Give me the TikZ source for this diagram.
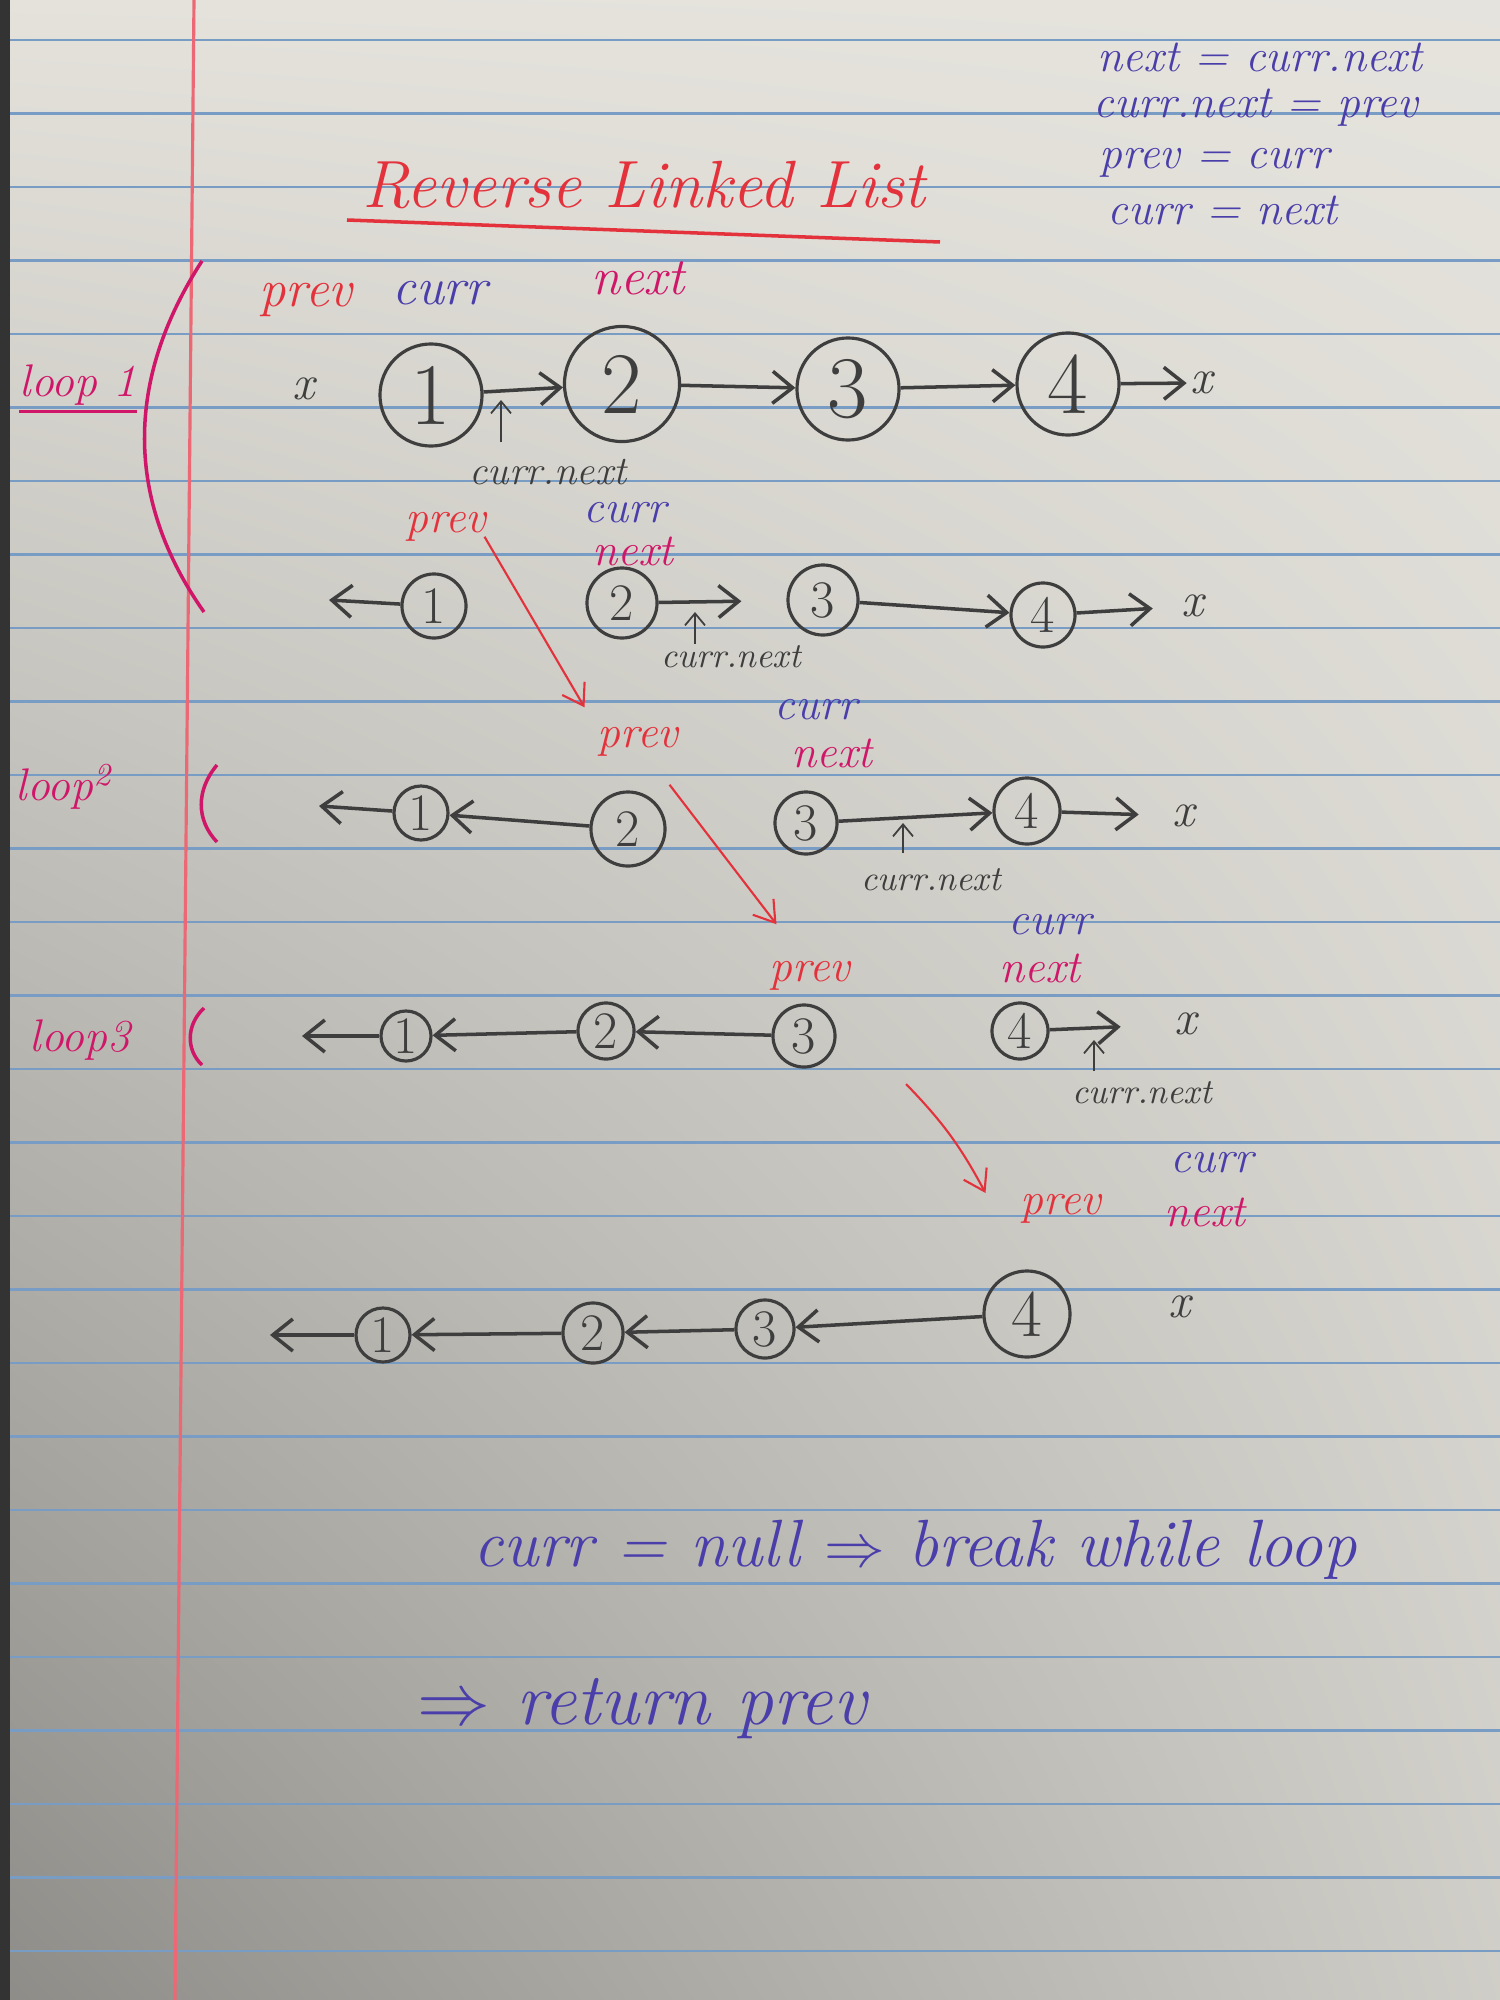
\documentclass[tikz,border=0pt]{standalone}
\usepackage{xcolor}
\usepackage{tikz}
\usetikzlibrary{arrows.meta, positioning, calc, shadings}

\definecolor{paper}{RGB}{228,226,219}
\definecolor{ruling}{RGB}{120,156,196}
\definecolor{marginred}{RGB}{236,104,116}
\definecolor{pencil}{RGB}{62,62,62}
\definecolor{redink}{RGB}{228,50,60}
\definecolor{blueink}{RGB}{74,62,170}
\definecolor{pinkink}{RGB}{208,22,104}

\begin{document}
\begin{tikzpicture}[
		x=0.01cm, y=-0.01cm,
		nd/.style={draw=pencil, circle, line width=0.9pt, inner sep=0pt, text=pencil},
		big/.style={nd, minimum size=1.02cm, font=\fontsize{25}{25}\selectfont},
		sml/.style={nd, minimum size=0.64cm, font=\fontsize{15}{15}\selectfont},
		lnk/.style={draw=pencil, line width=1pt, -{Straight Barb[length=2mm, width=3.2mm]}},
		nul/.style={text=pencil, font=\fontsize{14}{14}\selectfont\itshape, inner sep=1pt},
		tag/.style={font=\fontsize{13}{13}\selectfont\itshape, inner sep=1pt},
		prv/.style={tag, text=redink},
		cur/.style={tag, text=blueink},
		nxt/.style={tag, text=pinkink},
		note/.style={text=pencil, font=\fontsize{10}{10}\selectfont\itshape, inner sep=1pt},
		ptr/.style={draw=pencil, line width=0.5pt, -{Straight Barb[length=1.2mm, width=2mm]}},
		jump/.style={draw=redink, line width=0.6pt, -{Straight Barb[length=2mm, width=2.6mm]}},
		brk/.style={draw=pinkink, line width=1pt},
		loopname/.style={text=pinkink, font=\fontsize{13}{13}\selectfont\itshape, inner sep=1pt},
		codeline/.style={text=blueink, font=\fontsize{13}{13}\selectfont\itshape, anchor=west, inner sep=0pt},
		ink/.style={text=blueink, font=\fontsize{19}{19}\selectfont\itshape}
		]
		
		% Paper
		\useasboundingbox (0,0) rectangle (1500,2000);
		\shade[upper left=paper, upper right=paper!95!white, lower left=paper!62!black, lower right=paper!91!black] (0,0) rectangle (1500,2000);
		\foreach \k in {0,...,26}
		\draw[ruling, line width=0.7pt] (0,40+73.5*\k) -- (1500,40+73.5*\k);
		\draw[marginred, line width=0.9pt] (194,0) -- (175,2000);
		\fill[black!80] (0,0) rectangle (10,2000);
		
		% Title and the four steps
		\node[text=redink, font=\fontsize{19}{19}\selectfont\itshape] (title) at (644,185) {Reverse Linked List};
		\draw[redink, line width=1pt] (347,220) -- (940,242);
		\node[codeline] (stepA) at (1097,57) {next = curr.next};
		\node[codeline] (stepB) at (1093,108) {curr.next = prev};
		\node[codeline] (stepC) at (1099,163) {prev = curr};
		\node[codeline] (stepD) at (1107,210) {curr = next};
		
		% Loop names
		\node[loopname] (loopA) at (78,385) {loop 1};
		\draw[pinkink, line width=1pt] ($(loopA.south west)+(4,2)$) -- ($(loopA.south east)+(-4,2)$);
		\node[loopname] (loopB) at (64,787) {loop\textsuperscript{2}};
		\node[loopname] (loopC) at (80,1040) {loop3};
		\draw[brk] (202,261) .. controls (125,380) and (125,500) .. (204,612);
		\draw[brk] (217,765) .. controls (196,790) and (196,820) .. (217,842);
		\draw[brk] (204,1008) .. controls (186,1025) and (186,1050) .. (202,1065);
		
		% Loop 1, before
		\node[nul] (a0) at (304,389) {x};
		\node[big] (a1) at (431,395) {1};
		\node[big, minimum size=1.15cm] (a2) at (622,384) {2};
		\node[big] (a3) at (848,389) {3};
		\node[big] (a4) at (1068,384) {4};
		\node[nul] (a5) at (1202,383) {x};
		\foreach \i/\j in {a1/a2, a2/a3, a3/a4, a4/a5}
		\draw[lnk] (\i) -- (\j);
		\node[prv, font=\fontsize{15}{15}\selectfont\itshape] (pA) at (306,300) {prev};
		\node[cur, font=\fontsize{15}{15}\selectfont\itshape] (cA) at (440,293) {curr};
		\node[nxt, font=\fontsize{15}{15}\selectfont\itshape] (nA) at (638,278) {next};
		\node[note, font=\fontsize{11.5}{11.5}\selectfont\itshape] (qA) at (548,472) {curr.next};
		\coordinate (hA) at (501,400);
		\draw[ptr] ($(hA)+(0,42)$) -- (hA);
		
		% Loop 1, after
		\coordinate (b0) at (329,600);
		\node[sml] (b1) at (434,606) {1};
		\node[sml, minimum size=0.7cm] (b2) at (622,603) {2};
		\node[sml, minimum size=0.7cm] (b3) at (823,600) {3};
		\node[sml] (b4) at (1043,615) {4};
		\node[nul] (b5) at (1193,606) {x};
		\draw[lnk] (b1) -- (b0);
		\draw[lnk, shorten >=4.5mm] (b2) -- (b3);
		\draw[lnk] (b3) -- (b4);
		\draw[lnk, shorten >=2.5mm] (b4) -- (b5);
		\node[prv] (pB) at (446,527) {prev};
		\node[cur] (cB) at (625,513) {curr};
		\node[nxt] (nB) at (633,551) {next};
		\node[note] (qB) at (731,657) {curr.next};
		\coordinate (hB) at (695,612);
		\draw[ptr] ($(hB)+(0,32)$) -- (hB);
		
		% Loop 2
		\coordinate (c0) at (319,806);
		\node[sml, minimum size=0.54cm] (c1) at (421,813) {1};
		\node[sml, minimum size=0.74cm] (c2) at (628,829) {2};
		\node[sml, minimum size=0.62cm] (c3) at (806,823) {3};
		\node[sml, minimum size=0.66cm] (c4) at (1027,811) {4};
		\node[nul] (c5) at (1184,816) {x};
		\foreach \i/\j in {c2/c1, c1/c0, c3/c4}
		\draw[lnk] (\i) -- (\j);
		\draw[lnk, shorten >=3mm] (c4) -- (c5);
		\node[prv] (pC) at (638,742) {prev};
		\node[cur] (cC) at (816,710) {curr};
		\node[nxt] (nC) at (832,753) {next};
		\node[note] (qC) at (931,880) {curr.next};
		\coordinate (hC) at (903,823);
		\draw[ptr] ($(hC)+(0,30)$) -- (hC);
		
		% Loop 3
		\coordinate (d0) at (302,1036);
		\node[sml, minimum size=0.5cm] (d1) at (406,1036) {1};
		\node[sml, minimum size=0.56cm] (d2) at (606,1031) {2};
		\node[sml, minimum size=0.62cm] (d3) at (804,1036) {3};
		\node[sml, minimum size=0.56cm] (d4) at (1020,1031) {4};
		\node[nul] (d5) at (1186,1024) {x};
		\foreach \i/\j in {d3/d2, d2/d1, d1/d0}
		\draw[lnk] (\i) -- (\j);
		\draw[lnk, shorten >=5mm] (d4) -- (d5);
		\node[prv] (pD) at (810,976) {prev};
		\node[cur] (cD) at (1050,925) {curr};
		\node[nxt] (nD) at (1040,968) {next};
		\node[note] (qD) at (1142,1093) {curr.next};
		\coordinate (hD) at (1094,1040);
		\draw[ptr] ($(hD)+(0,31)$) -- (hD);
		
		% After the last loop
		\coordinate (e0) at (270,1335);
		\node[sml, minimum size=0.54cm] (e1) at (383,1335) {1};
		\node[sml, minimum size=0.6cm] (e2) at (593,1333) {2};
		\node[sml, minimum size=0.58cm] (e3) at (765,1329) {3};
		\node[sml, minimum size=0.86cm, font=\fontsize{19}{19}\selectfont] (e4) at (1027,1314) {4};
		\node[nul] (e5) at (1180,1307) {x};
		\foreach \i/\j in {e4/e3, e3/e2, e2/e1, e1/e0}
		\draw[lnk] (\i) -- (\j);
		\node[prv] (pE) at (1061,1209) {prev};
		\node[cur] (cE) at (1212,1163) {curr};
		\node[nxt] (nE) at (1205,1212) {next};
		
		% prev moves on
		\draw[jump] ($(pB.south east)+(-6,-9)$) -- ($(pC.north west)+(-9,-16)$);
		\draw[jump] ($(pC.south east)+(-13,24)$) -- ($(pD.north west)+(11,-33)$);
		\coordinate (jD) at (906,1084);
		\draw[jump] (jD) to[bend left=8] ($(pE.west)+(-31,-16)$);
		
		% End
		\node[ink] (endA) at (915,1550) {curr = null $\Rightarrow$ break while loop};
		\node[ink, font=\fontsize{21}{21}\selectfont\itshape] (endB) at (642,1709) {$\Rightarrow$ return prev};
		
	\end{tikzpicture}
\end{document}
